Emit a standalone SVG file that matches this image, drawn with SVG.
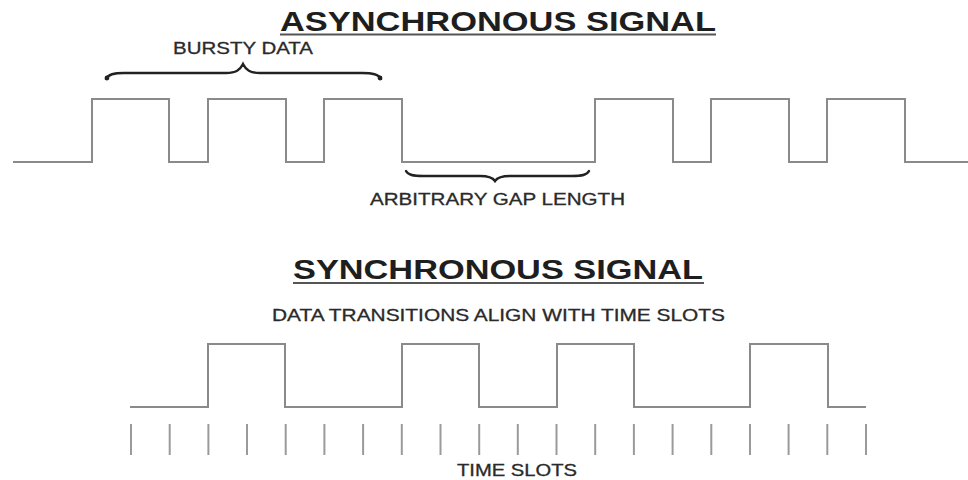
<svg xmlns="http://www.w3.org/2000/svg" width="968" height="480" viewBox="0 0 968 480">
  <style>
    .title { font-family: "Liberation Sans", Arial, sans-serif; font-weight: bold; font-size: 27px; fill: #1e1e1e; }
    .label { font-family: "Liberation Sans", Arial, sans-serif; font-size: 16.5px; fill: #2a2a2a; stroke: #2a2a2a; stroke-width: 0.3; }
    .rule { stroke: #555; stroke-width: 2; }
    .wave { fill: none; stroke: #8a8a8a; stroke-width: 2; stroke-linejoin: miter; }
    .tick { stroke: #9a9a9a; stroke-width: 2; }
    .brace { fill: none; stroke: #222; stroke-width: 2.4; stroke-linecap: round; }
  </style>
  <rect width="968" height="480" fill="#fff"/>

  <!-- Asynchronous signal -->
  <g id="async-title">
    <text class="title" x="280" y="31" textLength="436" lengthAdjust="spacingAndGlyphs">ASYNCHRONOUS SIGNAL</text>
    <line class="rule" x1="280" y1="34.5" x2="716" y2="34.5"/>
  </g>
  <g id="bursty-data">
    <text class="label" x="173" y="54" textLength="140" lengthAdjust="spacingAndGlyphs">BURSTY DATA</text>
    <path class="brace" d="M106,79 C108,74 114,73 124,73 L226,73 C236,73 240,70 243,64 C246,70 250,73 260,73 L362,73 C372,73 379,74 381,79"/>
    <circle cx="107" cy="78" r="2.4" fill="#222"/>
    <circle cx="380" cy="78" r="2.4" fill="#222"/>
  </g>
  <g id="async-wave">
    <path class="wave" d="M13,162 H92 V99 H169 V162 H208 V99 H286 V162 H324 V99 H402 V162 H595 V99 H673 V162 H711 V99 H789 V162 H827 V99 H905 V162 H968"/>
  </g>
  <g id="gap-length">
    <path class="brace" d="M406,171 C408,175 413,176 423,176 L480,176 C489,176 493,178 495,181 C497,178 501,176 510,176 L572,176 C582,176 587,175 589,171"/>
    <text class="label" x="370" y="205" textLength="255" lengthAdjust="spacingAndGlyphs">ARBITRARY GAP LENGTH</text>
  </g>

  <!-- Synchronous signal -->
  <g id="sync-title">
    <text class="title" x="293" y="279" textLength="410" lengthAdjust="spacingAndGlyphs">SYNCHRONOUS SIGNAL</text>
    <line class="rule" x1="293" y1="283" x2="704" y2="283"/>
  </g>
  <g id="sync-caption">
    <text class="label" x="272" y="321" textLength="453" lengthAdjust="spacingAndGlyphs">DATA TRANSITIONS ALIGN WITH TIME SLOTS</text>
  </g>
  <g id="sync-wave">
    <path class="wave" d="M130,407 H208 V344 H285 V407 H402 V344 H479 V407 H557 V344 H634 V407 H750 V344 H828 V407 H866"/>
  </g>
  <g id="time-slots">
    <g class="tick">
      <line x1="131" y1="424" x2="131" y2="455"/>
      <line x1="169.7" y1="424" x2="169.7" y2="455"/>
      <line x1="208.4" y1="424" x2="208.4" y2="455"/>
      <line x1="247" y1="424" x2="247" y2="455"/>
      <line x1="285.7" y1="424" x2="285.7" y2="455"/>
      <line x1="324.4" y1="424" x2="324.4" y2="455"/>
      <line x1="363.1" y1="424" x2="363.1" y2="455"/>
      <line x1="401.8" y1="424" x2="401.8" y2="455"/>
      <line x1="440.5" y1="424" x2="440.5" y2="455"/>
      <line x1="479.2" y1="424" x2="479.2" y2="455"/>
      <line x1="517.8" y1="424" x2="517.8" y2="455"/>
      <line x1="556.5" y1="424" x2="556.5" y2="455"/>
      <line x1="595.2" y1="424" x2="595.2" y2="455"/>
      <line x1="633.9" y1="424" x2="633.9" y2="455"/>
      <line x1="672.6" y1="424" x2="672.6" y2="455"/>
      <line x1="711.3" y1="424" x2="711.3" y2="455"/>
      <line x1="750" y1="424" x2="750" y2="455"/>
      <line x1="788.6" y1="424" x2="788.6" y2="455"/>
      <line x1="827.3" y1="424" x2="827.3" y2="455"/>
      <line x1="866" y1="424" x2="866" y2="455"/>
    </g>
    <text class="label" x="457" y="476" textLength="120" lengthAdjust="spacingAndGlyphs">TIME SLOTS</text>
  </g>
</svg>
